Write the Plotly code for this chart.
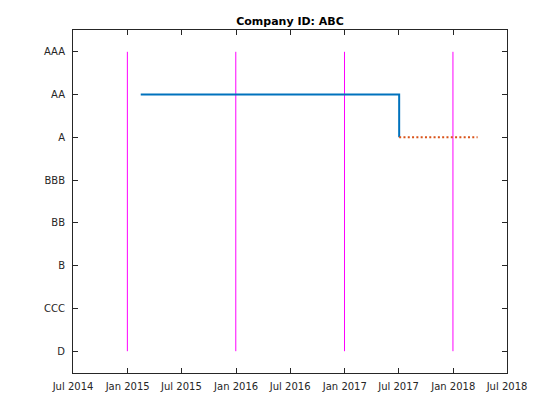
import plotly.graph_objects as go

rating_labels = ["D", "CCC", "B", "BB", "BBB", "A", "AA", "AAA"]
rating_values = [1, 2, 3, 4, 5, 6, 7, 8]

hist_dates = ["2015-02-14", "2017-07-03", "2017-07-03"]
hist_ratings = [7, 7, 6]

proj_dates = ["2017-07-03", "2018-03-24"]
proj_ratings = [6, 6]

year_ends = ["2014-12-31", "2015-12-31", "2016-12-31", "2017-12-31"]

tick_dates = ["2014-07-01", "2015-01-01", "2015-07-01", "2016-01-01", "2016-07-01",
              "2017-01-01", "2017-07-01", "2018-01-01", "2018-07-01"]
tick_text = ["Jul 2014", "Jan 2015", "Jul 2015", "Jan 2016", "Jul 2016",
             "Jan 2017", "Jul 2017", "Jan 2018", "Jul 2018"]

fig = go.Figure()

for d in year_ends:
    fig.add_trace(go.Scatter(x=[d, d], y=[rating_values[0], rating_values[-1]], mode="lines",
                             line=dict(color="#FF00FF", width=1), showlegend=False,
                             hoverinfo="skip"))

fig.add_trace(go.Scatter(x=hist_dates, y=hist_ratings, mode="lines",
                         line=dict(color="#0072BD", width=2), showlegend=False))
fig.add_trace(go.Scatter(x=proj_dates, y=proj_ratings, mode="lines",
                         line=dict(color="#D95319", width=2, dash="2px,2.3px"), showlegend=False))

axis_common = dict(showline=True, linecolor="#262626", linewidth=1, mirror="ticks",
                   ticks="inside", ticklen=5, tickcolor="#262626", showgrid=False,
                   zeroline=False, tickfont=dict(family="DejaVu Sans", size=10, color="#262626"))

fig.update_xaxes(type="date", range=["2014-07-01", "2018-07-01"],
                 tickmode="array", tickvals=tick_dates, ticktext=tick_text,
                 ticklabelstandoff=4, **axis_common)
fig.update_yaxes(range=[0.49, 8.51], tickmode="array", tickvals=rating_values,
                 ticktext=rating_labels, ticklabelstandoff=5, **axis_common)

fig.update_layout(
    width=560, height=420,
    margin=dict(l=73, r=53, t=30, b=47),
    paper_bgcolor="white", plot_bgcolor="white",
    title=dict(text="<b>Company ID: ABC</b>", x=(73 + 507) / 2 / 560, xanchor="center",
               y=1 - 21 / 420, yanchor="middle",
               font=dict(family="DejaVu Sans", size=11, color="black")),
)

fig.write_html("out.html", config={"displayModeBar": False},
               post_script="document.body.style.margin='0';")
